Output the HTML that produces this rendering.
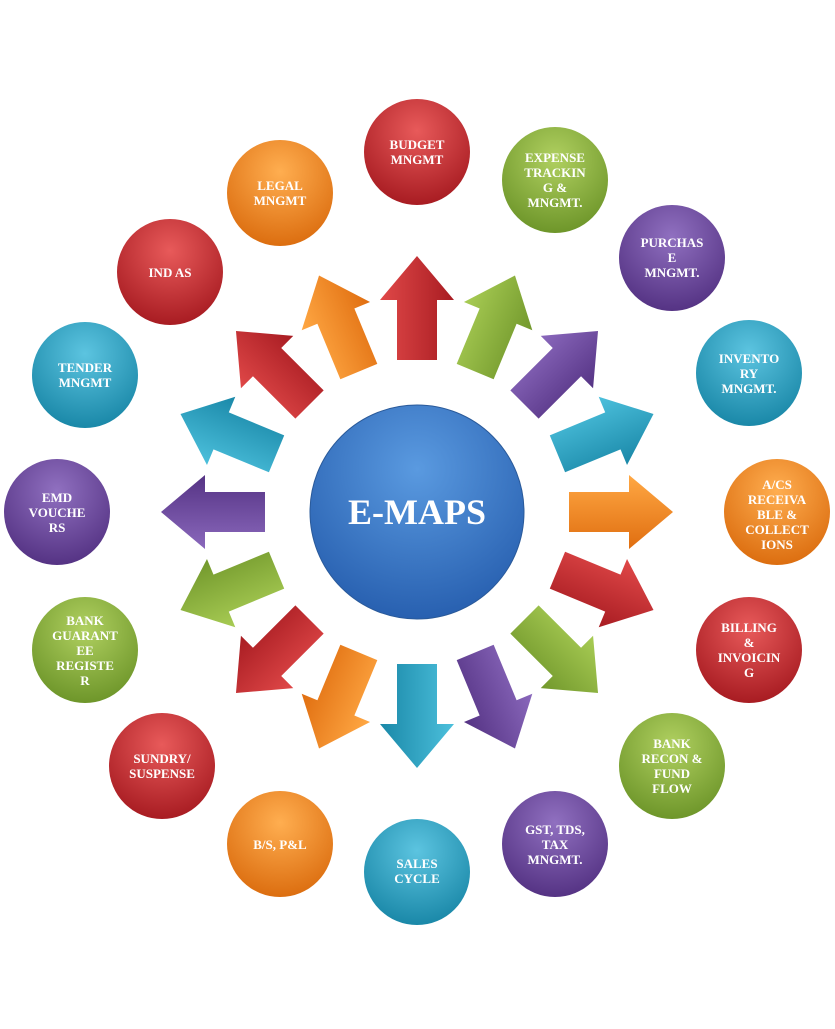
<!DOCTYPE html>
<html><head><meta charset="utf-8"><style>
html,body{margin:0;padding:0;background:#fff;}
svg text{font-family:"Liberation Serif",serif;font-weight:bold;fill:#fff;text-anchor:middle;}
</style></head><body>
<svg width="835" height="1024" viewBox="0 0 835 1024" xmlns="http://www.w3.org/2000/svg">
<defs>
<radialGradient id="red" cx="50%" cy="30%" r="70%"><stop offset="0" stop-color="#e85a5a"/><stop offset="1" stop-color="#a81c22"/></radialGradient>
<radialGradient id="green" cx="50%" cy="30%" r="70%"><stop offset="0" stop-color="#b0d060"/><stop offset="1" stop-color="#6e962a"/></radialGradient>
<radialGradient id="purple" cx="50%" cy="30%" r="70%"><stop offset="0" stop-color="#9070c0"/><stop offset="1" stop-color="#553384"/></radialGradient>
<radialGradient id="teal" cx="50%" cy="30%" r="70%"><stop offset="0" stop-color="#5cc4e0"/><stop offset="1" stop-color="#1a88a8"/></radialGradient>
<radialGradient id="orange" cx="50%" cy="30%" r="70%"><stop offset="0" stop-color="#ffae50"/><stop offset="1" stop-color="#dc6e10"/></radialGradient>
<radialGradient id="blue" cx="50%" cy="30%" r="70%"><stop offset="0" stop-color="#5a9ae0"/><stop offset="1" stop-color="#2860b0"/></radialGradient>
<linearGradient id="ared" x1="0" x2="1"><stop offset="0" stop-color="#e04848"/><stop offset="1" stop-color="#a81c22"/></linearGradient>
<linearGradient id="agreen" x1="0" x2="1"><stop offset="0" stop-color="#a8cc54"/><stop offset="1" stop-color="#72982c"/></linearGradient>
<linearGradient id="apurple" x1="0" x2="1"><stop offset="0" stop-color="#8a68bc"/><stop offset="1" stop-color="#553384"/></linearGradient>
<linearGradient id="ateal" x1="0" x2="1"><stop offset="0" stop-color="#4cc0dc"/><stop offset="1" stop-color="#1a88a8"/></linearGradient>
<linearGradient id="aorange" x1="0" x2="1"><stop offset="0" stop-color="#ffa844"/><stop offset="1" stop-color="#e06e10"/></linearGradient>
<g id="arr"><polygon points="-20,-152 -20,-212 -37,-212 0,-256 37,-212 20,-212 20,-152"/></g>
</defs>
<g transform="translate(417,512)">
<use href="#arr" fill="url(#ared)" transform="rotate(0)"/>
<use href="#arr" fill="url(#agreen)" transform="rotate(22.5)"/>
<use href="#arr" fill="url(#apurple)" transform="rotate(45)"/>
<use href="#arr" fill="url(#ateal)" transform="rotate(67.5)"/>
<use href="#arr" fill="url(#aorange)" transform="rotate(90)"/>
<use href="#arr" fill="url(#ared)" transform="rotate(112.5)"/>
<use href="#arr" fill="url(#agreen)" transform="rotate(135)"/>
<use href="#arr" fill="url(#apurple)" transform="rotate(157.5)"/>
<use href="#arr" fill="url(#ateal)" transform="rotate(180)"/>
<use href="#arr" fill="url(#aorange)" transform="rotate(202.5)"/>
<use href="#arr" fill="url(#ared)" transform="rotate(225)"/>
<use href="#arr" fill="url(#agreen)" transform="rotate(247.5)"/>
<use href="#arr" fill="url(#apurple)" transform="rotate(270)"/>
<use href="#arr" fill="url(#ateal)" transform="rotate(292.5)"/>
<use href="#arr" fill="url(#ared)" transform="rotate(315)"/>
<use href="#arr" fill="url(#aorange)" transform="rotate(337.5)"/>
</g>
<circle cx="417" cy="512" r="107" fill="url(#blue)" stroke="#2a5a9a" stroke-width="1"/>
<text x="417" y="524" font-size="36">E-MAPS</text>
<g font-size="13">
<circle cx="417" cy="152" r="53" fill="url(#red)"/><text x="417" y="149" font-size="13">BUDGET</text><text x="417" y="164" font-size="13">MNGMT</text>
<circle cx="555" cy="180" r="53" fill="url(#green)"/><text x="555" y="162" font-size="13">EXPENSE</text><text x="555" y="177" font-size="13">TRACKIN</text><text x="555" y="192" font-size="13">G &amp;</text><text x="555" y="207" font-size="13">MNGMT.</text>
<circle cx="672" cy="258" r="53" fill="url(#purple)"/><text x="672" y="247" font-size="13">PURCHAS</text><text x="672" y="262" font-size="13">E</text><text x="672" y="277" font-size="13">MNGMT.</text>
<circle cx="749" cy="373" r="53" fill="url(#teal)"/><text x="749" y="363" font-size="13">INVENTO</text><text x="749" y="378" font-size="13">RY</text><text x="749" y="393" font-size="13">MNGMT.</text>
<circle cx="777" cy="512" r="53" fill="url(#orange)"/><text x="777" y="489" font-size="13">A/CS</text><text x="777" y="504" font-size="13">RECEIVA</text><text x="777" y="519" font-size="13">BLE &amp;</text><text x="777" y="534" font-size="13">COLLECT</text><text x="777" y="549" font-size="13">IONS</text>
<circle cx="749" cy="650" r="53" fill="url(#red)"/><text x="749" y="632" font-size="13">BILLING</text><text x="749" y="647" font-size="13">&amp;</text><text x="749" y="662" font-size="13">INVOICIN</text><text x="749" y="677" font-size="13">G</text>
<circle cx="672" cy="766" r="53" fill="url(#green)"/><text x="672" y="748" font-size="13">BANK</text><text x="672" y="763" font-size="13">RECON &amp;</text><text x="672" y="778" font-size="13">FUND</text><text x="672" y="793" font-size="13">FLOW</text>
<circle cx="555" cy="844" r="53" fill="url(#purple)"/><text x="555" y="834" font-size="13">GST, TDS,</text><text x="555" y="849" font-size="13">TAX</text><text x="555" y="864" font-size="13">MNGMT.</text>
<circle cx="417" cy="872" r="53" fill="url(#teal)"/><text x="417" y="868" font-size="13">SALES</text><text x="417" y="883" font-size="13">CYCLE</text>
<circle cx="280" cy="844" r="53" fill="url(#orange)"/><text x="280" y="849" font-size="13">B/S, P&amp;L</text>
<circle cx="162" cy="766" r="53" fill="url(#red)"/><text x="162" y="763" font-size="13">SUNDRY/</text><text x="162" y="778" font-size="13">SUSPENSE</text>
<circle cx="85" cy="650" r="53" fill="url(#green)"/><text x="85" y="625" font-size="13">BANK</text><text x="85" y="640" font-size="13">GUARANT</text><text x="85" y="655" font-size="13">EE</text><text x="85" y="670" font-size="13">REGISTE</text><text x="85" y="685" font-size="13">R</text>
<circle cx="57" cy="512" r="53" fill="url(#purple)"/><text x="57" y="502" font-size="13">EMD</text><text x="57" y="517" font-size="13">VOUCHE</text><text x="57" y="532" font-size="13">RS</text>
<circle cx="85" cy="375" r="53" fill="url(#teal)"/><text x="85" y="372" font-size="13">TENDER</text><text x="85" y="387" font-size="13">MNGMT</text>
<circle cx="170" cy="272" r="53" fill="url(#red)"/><text x="170" y="277" font-size="13">IND AS</text>
<circle cx="280" cy="193" r="53" fill="url(#orange)"/><text x="280" y="190" font-size="13">LEGAL</text><text x="280" y="205" font-size="13">MNGMT</text>
</g>
</svg>
</body></html>
